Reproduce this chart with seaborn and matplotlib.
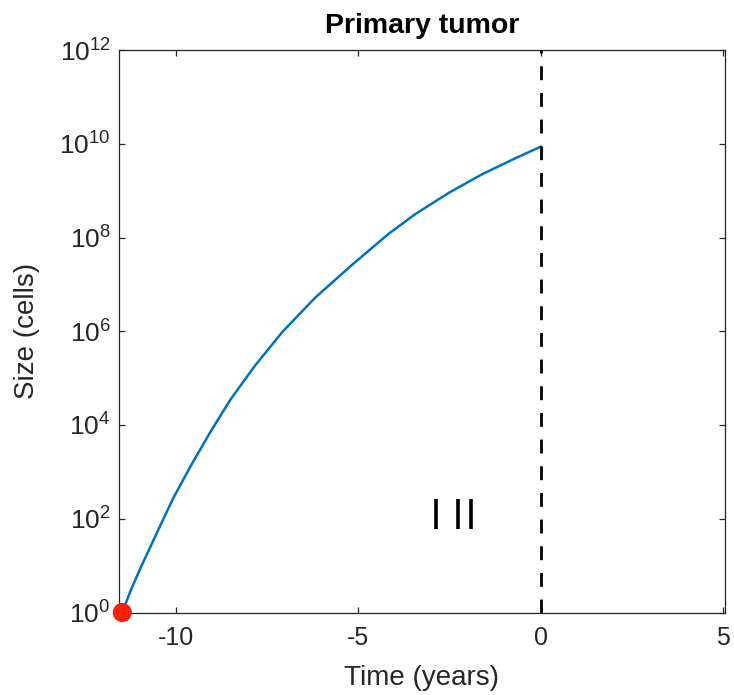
import numpy as np
import pandas as pd
import matplotlib
matplotlib.use("Agg")
import matplotlib.pyplot as plt
import seaborn as sns
from matplotlib.ticker import FixedLocator, NullLocator

# ---- data ----
time_years = [-11.47, -11.25, -10.97, -10.51, -10.08, -9.60, -9.05, -8.50,
              -7.82, -7.09, -6.18, -5.17, -4.17, -3.44, -2.53, -1.61, -0.70, 0.0]
log10_size = [0.0, 0.45, 0.95, 1.72, 2.43, 3.12, 3.86, 4.55,
              5.28, 5.98, 6.72, 7.42, 8.08, 8.50, 8.95, 9.35, 9.69, 9.94]
start_time = [-11.47]
start_size = [1.0]
mark_times = [-2.87, -2.28, -1.91]
mark_sizes = [125.0, 125.0, 125.0]
diagnosis_time = [0.0]
x_ticks = [-10, -5, 0, 5]
x_ticklabels = ["-10", "-5", "0", "5"]
y_exponents = [0, 2, 4, 6, 8, 10, 12]

sns.set_theme(style="white")
plt.rcParams["font.family"] = ["Liberation Sans", "DejaVu Sans"]
plt.rcParams["mathtext.fontset"] = "custom"
plt.rcParams["mathtext.rm"] = "Liberation Sans"
plt.rcParams["mathtext.it"] = "Liberation Sans:italic"
plt.rcParams["mathtext.bf"] = "Liberation Sans:bold"

fig = plt.figure(figsize=(7.34, 6.95), dpi=100)
ax = fig.add_axes([119 / 734, 1 - 612.5 / 695, (724.5 - 119) / 734, (612.5 - 50) / 695])

curve = pd.DataFrame({"t": time_years, "N": [10 ** v for v in log10_size]})
sns.lineplot(data=curve, x="t", y="N", ax=ax, color="#0072BD", linewidth=1.8,
             sort=False, estimator=None)
ax.lines[-1].set_solid_joinstyle("round")

for xd in diagnosis_time:
    ax.axvline(xd, color="black", linewidth=2.0, linestyle=(0, (5, 4.6)), zorder=3)

marks = pd.DataFrame({"t": mark_times, "N": mark_sizes})
sns.scatterplot(data=marks, x="t", y="N", ax=ax, marker="|", s=470,
                linewidth=2.6, color="black", zorder=4)

start = pd.DataFrame({"t": start_time, "N": start_size})
sns.scatterplot(data=start, x="t", y="N", ax=ax, s=190, color="#f8200a",
                edgecolor="none", zorder=5, clip_on=False)

ax.set_yscale("log")
ax.set_xlim(-11.56, 5.03)
ax.set_ylim(1, 1e12)
ax.xaxis.set_major_locator(FixedLocator(x_ticks))
ax.set_xticklabels(x_ticklabels)
ax.yaxis.set_major_locator(FixedLocator([10.0 ** e for e in y_exponents]))
ax.set_yticklabels([f"$10^{{{e}}}$" for e in y_exponents])
ax.yaxis.set_minor_locator(NullLocator())
ax.xaxis.set_minor_locator(NullLocator())

for s in ax.spines.values():
    s.set_visible(True)
    s.set_color("#262626")
    s.set_linewidth(0.9)

ax.tick_params(axis="both", which="major", direction="in", length=4.5, width=0.9,
               colors="#262626", top=True, right=True, bottom=True, left=True)
ax.tick_params(axis="x", pad=10, labelsize=18)
ax.tick_params(axis="y", pad=6, labelsize=19)

ax.set_xlabel("Time (years)", fontsize=20, color="#262626")
ax.set_ylabel("Size (cells)", fontsize=20, color="#262626")
ax.xaxis.set_label_coords(0.5, -0.093)
ax.yaxis.set_label_coords(-0.13, 0.5)
ax.set_title("Primary tumor", fontsize=20.5, fontweight="bold", color="black", pad=12)

fig.savefig("out.png", dpi=100)
